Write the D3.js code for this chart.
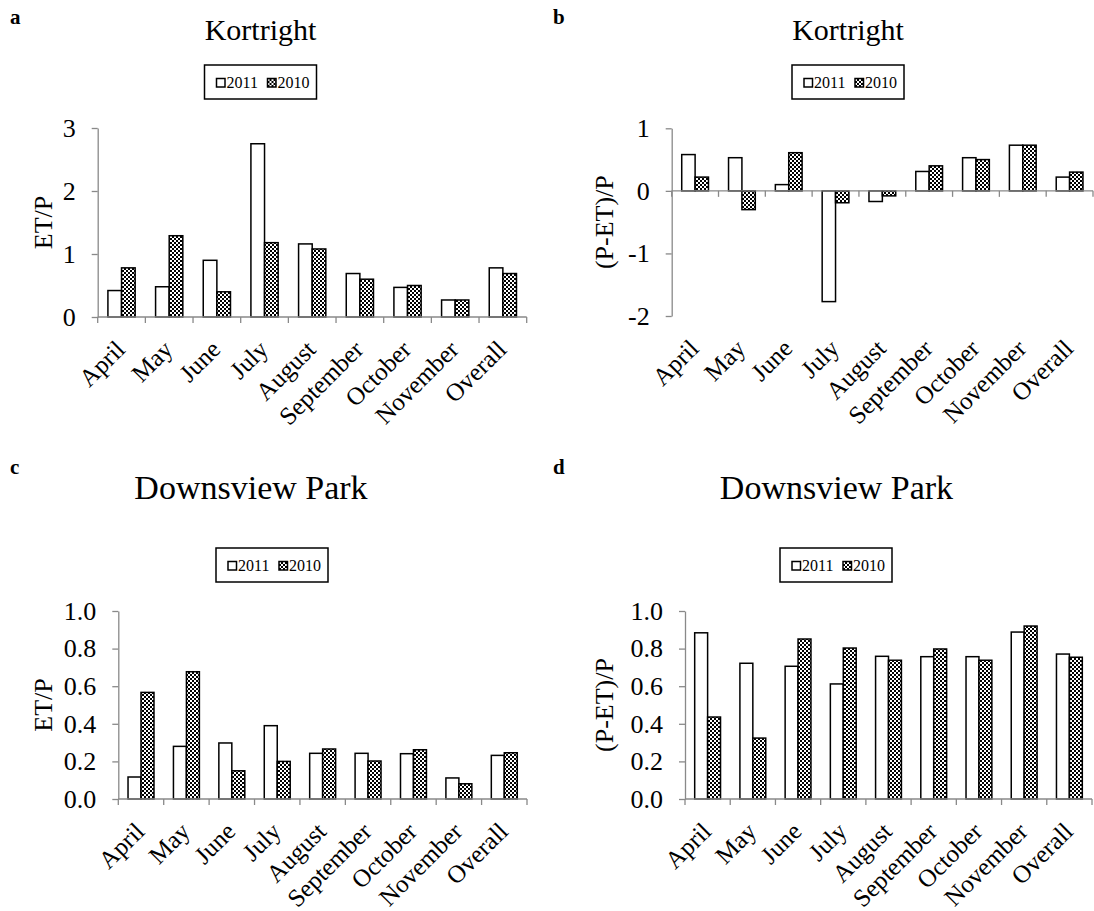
<!DOCTYPE html>
<html><head><meta charset="utf-8">
<script src="https://cdn.jsdelivr.net/npm/d3@7"></script>
<style>body{margin:0;background:#fff}svg{display:block}</style>
</head><body>
<svg id="chart" width="1094" height="911"></svg>
<script>
const months = ["April","May","June","July","August","September","October","November","Overall"];
const seriesNames = ["2011","2010"];
const kortETP2011 = [0.42,0.48,0.90,2.75,1.16,0.69,0.47,0.27,0.78];
const kortETP2010 = [0.78,1.29,0.40,1.18,1.08,0.60,0.50,0.27,0.69];
const kortPET2011 = [0.58,0.53,0.10,-1.77,-0.17,0.31,0.53,0.73,0.22];
const kortPET2010 = [0.22,-0.30,0.61,-0.19,-0.08,0.40,0.50,0.73,0.30];
const downETP2011 = [0.117,0.28,0.298,0.39,0.243,0.243,0.241,0.112,0.232];
const downETP2010 = [0.567,0.677,0.15,0.20,0.266,0.202,0.262,0.081,0.246];
const downPET2011 = [0.884,0.722,0.706,0.612,0.759,0.757,0.757,0.888,0.771];
const downPET2010 = [0.436,0.324,0.851,0.803,0.738,0.798,0.738,0.92,0.754];
const ticksKortETP = [0,1,2,3];
const ticksKortPET = [-2,-1,0,1];
const ticksDown = [0,0.2,0.4,0.6,0.8,1.0];

const svg = d3.select("#chart");
const FONT = "'Liberation Serif','Times New Roman',serif";
const AXIS = "#898989";
const FS = 26;
const FSCAT = 25;

const defs = svg.append("defs");
const pat = defs.append("pattern").attr("id","checker").attr("patternUnits","userSpaceOnUse")
  .attr("width",4).attr("height",4);
pat.append("rect").attr("width",4).attr("height",4).attr("fill","#fff");
pat.append("rect").attr("x",0).attr("y",0).attr("width",2).attr("height",2).attr("fill","#000");
pat.append("rect").attr("x",2).attr("y",2).attr("width",2).attr("height",2).attr("fill","#000");
const fills = ["#fff","url(#checker)"];

function panel(c){
  const g = svg.append("g");
  const y = d3.scaleLinear().domain(c.domain).range([c.bottom, c.top]);
  const x = d3.scaleBand().domain(months).range([c.left, c.right]).padding(0);
  const xs = d3.scaleBand().domain(seriesNames).range([0, x.bandwidth()]).paddingInner(0).paddingOuter(0.75);

  const ya = g.append("g").attr("transform",`translate(${c.left},0)`)
    .call(d3.axisLeft(y).tickValues(c.ticks).tickFormat(c.fmt).tickSize(6).tickSizeOuter(0).tickPadding(16));
  ya.select(".domain").attr("stroke",AXIS).attr("stroke-width",1.3);
  ya.selectAll(".tick line").attr("stroke",AXIS).attr("stroke-width",1.3);
  ya.selectAll(".tick text").attr("font-family",FONT).attr("font-size",FS).attr("fill","#000");

  const vals = [c.v2011, c.v2010];
  seriesNames.forEach((s,si)=>{
    g.append("g").selectAll("rect").data(months).join("rect")
      .attr("x",(m)=>x(m)+xs(s))
      .attr("width",xs.bandwidth())
      .attr("y",(m,i)=>y(Math.max(0,vals[si][i])))
      .attr("height",(m,i)=>Math.abs(y(vals[si][i])-y(0)))
      .attr("fill",fills[si]).attr("stroke","#000").attr("stroke-width",1.5);
  });

  const y0 = y(0);
  g.append("line").attr("x1",c.left).attr("x2",c.right).attr("y1",y0).attr("y2",y0)
    .attr("stroke",AXIS).attr("stroke-width",1.3);
  const bounds = months.map(m=>x(m)).concat([c.right]);
  g.append("g").selectAll("line").data(bounds).join("line")
    .attr("x1",d=>d).attr("x2",d=>d).attr("y1",y0).attr("y2",y0+6)
    .attr("stroke",AXIS).attr("stroke-width",1.3);

  g.append("g").selectAll("text").data(months).join("text")
    .attr("transform",m=>`translate(${x(m)+x.bandwidth()/2+5},${c.bottom+34}) rotate(-45)`)
    .attr("text-anchor","end").attr("font-family",FONT).attr("font-size",FSCAT).text(m=>m);

  g.append("text").attr("transform",`translate(${c.ylabX},${(c.top+c.bottom)/2}) rotate(-90)`)
    .attr("text-anchor","middle").attr("font-family",FONT).attr("font-size",FS).text(c.ylabel);

  g.append("text").attr("x",c.tx).attr("y",c.titleY).attr("text-anchor","middle")
    .attr("font-family",FONT).attr("font-size",c.titleSize).text(c.title);
  g.append("text").attr("x",c.lx).attr("y",c.ly).attr("font-family",FONT)
    .attr("font-weight","bold").attr("font-size",21).text(c.letter);

  const lw = 112, lh = 34, lx = c.cx - lw/2, ly = c.legY;
  const lg = g.append("g").attr("transform",`translate(${lx},${ly})`);
  lg.append("rect").attr("width",lw).attr("height",lh).attr("fill","#fff").attr("stroke","#000").attr("stroke-width",1.5);
  const items = lg.selectAll("g").data(seriesNames).join("g")
    .attr("transform",(d,i)=>`translate(${12+i*51},0)`);
  items.append("rect").attr("x",0).attr("y",13.5).attr("width",8.5).attr("height",8.5)
    .attr("fill",(d,i)=>fills[i]).attr("stroke","#000").attr("stroke-width",1.5);
  items.append("text").attr("x",10).attr("y",23.3).attr("font-family",FONT).attr("font-size",16).text(d=>d);
}

const fInt = v => d3.format("d")(v).replace("\u2212","-");
const f1 = d3.format(".1f");
panel({left:97.7,right:526.7,top:128,bottom:317,domain:[0,3],ticks:ticksKortETP,fmt:fInt,
  v2011:kortETP2011,v2010:kortETP2010,ylabel:"ET/P",ylabX:52,title:"Kortright",tx:260.5,cx:260.5,titleY:40,titleSize:30,
  legY:65,letter:"a",lx:10,ly:24});
panel({left:671.7,right:1093,top:128.3,bottom:316,domain:[-2,1],ticks:ticksKortPET,fmt:fInt,
  v2011:kortPET2011,v2010:kortPET2010,ylabel:"(P-ET)/P",ylabX:613,title:"Kortright",tx:848,cx:848,titleY:40,titleSize:30,
  legY:65,letter:"b",lx:553,ly:24});
panel({left:118.3,right:527,top:611,bottom:799,domain:[0,1],ticks:ticksDown,fmt:f1,
  v2011:downETP2011,v2010:downETP2010,ylabel:"ET/P",ylabX:52,title:"Downsview Park",tx:251,cx:272,titleY:499,titleSize:34,
  legY:548,letter:"c",lx:10,ly:474});
panel({left:685,right:1092,top:611,bottom:799,domain:[0,1],ticks:ticksDown,fmt:f1,
  v2011:downPET2011,v2010:downPET2010,ylabel:"(P-ET)/P",ylabX:613,title:"Downsview Park",tx:836.5,cx:836,titleY:499,titleSize:34,
  legY:548,letter:"d",lx:553,ly:474});
</script>
</body></html>
